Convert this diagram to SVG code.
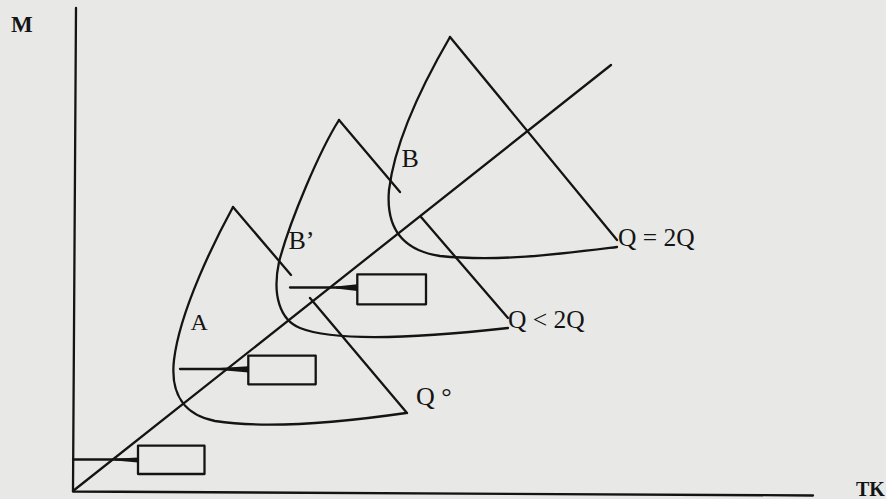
<svg xmlns="http://www.w3.org/2000/svg" width="886" height="499" viewBox="0 0 886 499">
<style>
.ln{fill:none;stroke:#141414;stroke-width:2.3;stroke-linecap:round;stroke-linejoin:round}
.wd{fill:#141414;stroke:none}
.box{fill:none;stroke:#141414;stroke-width:2.3;stroke-linejoin:round}
.t{font-family:"Liberation Serif","Times New Roman",serif;fill:#141414}
</style>
<rect x="0" y="0" width="886" height="499" fill="#e8e8e6"/>
<g id="axes">
<path class="ln" d="M76,8 L73,491.5 L813,495.5"/>
<text class="t" x="11" y="32" font-size="23" font-weight="bold">M</text>
<text class="t" x="856" y="496" font-size="20" font-weight="bold">TK</text>
</g>
<g id="connectors">
<path class="ln" d="M73,491 L611,65"/>
</g>
<g id="curve-A">
<path class="ln" d="M233,207 L291,275 M310,298 L407,413"/>
<path class="ln" d="M233,207 C215,240 180,310 174,360 C170,395 185,415 215,421 C260,428 330,424 406,413"/>
<text class="t" x="190.5" y="330" font-size="24">A</text>
<text class="t" x="416" y="405" font-size="26">Q °</text>
</g>
<g id="curve-B-prime">
<path class="ln" d="M339,120 L400,192 M421,217 L508,318"/>
<path class="ln" d="M339,120 C320,150 290,220 279,262 C272,295 280,320 300,328 C330,340 400,340 508,328"/>
<text class="t" x="288.5" y="249" font-size="26">B’</text>
<text class="t" x="508" y="328" font-size="25.5">Q &lt; 2Q</text>
</g>
<g id="curve-B">
<path class="ln" d="M450,37 L617,240"/>
<path class="ln" d="M450,37 C425,80 395,140 389,190 C386,225 400,250 440,256 C500,262 560,254 617,247"/>
<text class="t" x="401.5" y="166.5" font-size="26">B</text>
<text class="t" x="618" y="246" font-size="25.5">Q = 2Q</text>
</g>
<g id="box-bottom">
<path class="ln" d="M73,459.5 L138,459.5"/>
<polygon class="wd" points="115,458.8 138,457.5 138,462.5 115,460.6"/>
<rect class="box" x="138" y="445.7" width="66.5" height="28.3"/>
</g>
<g id="box-middle">
<path class="ln" d="M180,369 L248,369"/>
<polygon class="wd" points="220,368 248.3,366.3 248.3,372.5 220,370"/>
<rect class="box" x="248.3" y="355.7" width="67.4" height="28.6"/>
</g>
<g id="box-upper">
<path class="ln" d="M290,287.5 L357,287.5"/>
<polygon class="wd" points="336,286.5 357.3,284.3 357.3,291 336,288.6"/>
<rect class="box" x="357.3" y="274.3" width="68.7" height="30"/>
</g>
</svg>
